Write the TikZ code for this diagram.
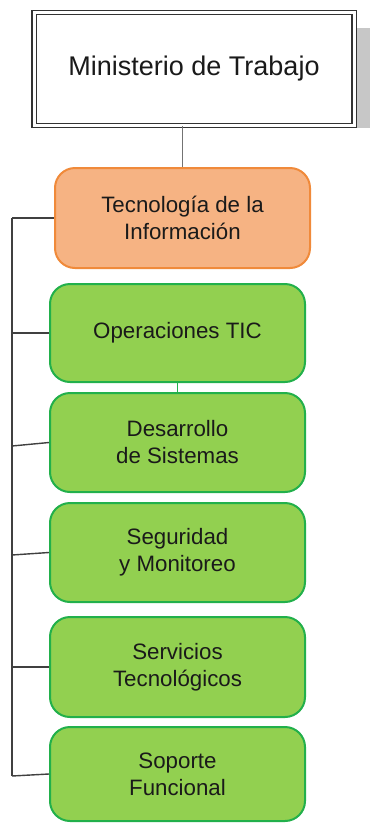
\documentclass[tikz,border=0pt]{standalone}
\usepackage{fontspec}
\setmainfont{Liberation Sans}
\definecolor{grfill}{HTML}{92D050}
\definecolor{grline}{HTML}{22B04B}
\definecolor{orfill}{HTML}{F6B383}
\definecolor{orline}{HTML}{F08A3A}
\definecolor{conn}{HTML}{404040}
\definecolor{txt}{HTML}{1A1A1A}
\begin{document}
\begin{tikzpicture}[x=1pt,y=-1pt,
  unitbox/.style={draw=grline,fill=grfill,line width=2pt,rounded corners=20pt,
    minimum width=255pt,align=center,text=txt,inner sep=0pt,
    font=\fontsize{22.3}{27}\selectfont},
  orbox/.style={unitbox,draw=orline,fill=orfill},
  link/.style={draw=conn,line width=1.4pt}]
\useasboundingbox (0,0) rectangle (370,823);
\fill[white] (0,0) rectangle (370,823);
% shadow of top box
\fill[black!22] (356,28) rectangle (370,128);
\node[draw=black!80,fill=white,double=white,double distance=3pt,line width=1.1pt,
  minimum width=320pt,minimum height=113pt,inner sep=0pt,text=txt,
  font=\fontsize{27}{32}\selectfont] (min) at (194,69) {Ministerio de Trabajo};
\node[orbox,minimum height=100pt] (tec) at (182.5,218) {Tecnología de la\\Información};
\node[unitbox,minimum height=98pt] (ope) at (177.5,333) {Operaciones TIC};
\node[unitbox,minimum height=99pt] (des) at (177.5,442.5) {Desarrollo\\de Sistemas};
\node[unitbox,minimum height=99pt] (seg) at (177.5,552.5) {Seguridad\\y Monitoreo};
\node[unitbox,minimum height=100pt] (ser) at (177.5,667) {Servicios\\Tecnológicos};
\node[unitbox,minimum height=94pt] (sop) at (177.5,774) {Soporte\\Funcional};
% connectors
\draw[link,draw=black!55] (tec.north) -- (tec.north |- min.south);
\draw[link,draw=grline] (ope.south) -- (des.north);
\coordinate (lt) at (12,218);
\coordinate (lo) at (12,333);
\coordinate (ld) at (12,446);
\coordinate (ls) at (12,555);
\coordinate (lv) at (12,667);
\coordinate (lb) at (12,776);
\draw[link] (lt) -- (lb);
\draw[link] (lt) -- (tec.west);
\draw[link] (lo) -- (ope.west);
\draw[link] (ld) -- (des.west);
\draw[link] (ls) -- (seg.west);
\draw[link] (lv) -- (ser.west);
\draw[link] (lb) -- (sop.west);
\end{tikzpicture}
\end{document}
